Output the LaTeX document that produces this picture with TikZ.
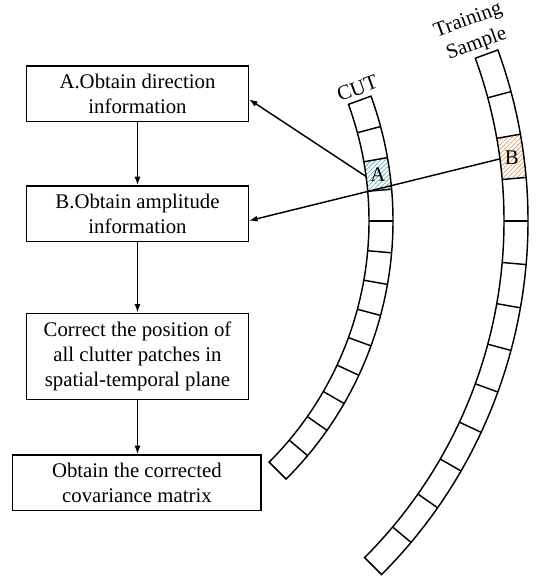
\documentclass[tikz,border=0pt]{standalone}
\usepackage{fontspec}
\setmainfont{Liberation Serif}
\usetikzlibrary{arrows.meta,patterns.meta,calc}
\definecolor{hatchA}{RGB}{100,180,185}
\definecolor{hatchB}{RGB}{220,160,110}
\begin{document}
\begin{tikzpicture}[x=1pt,y=1pt, line width=1.45pt,
  flowbox/.style={draw, align=center, inner sep=0pt, font=\fontsize{20.8}{25}\selectfont},
  arr/.style={-{Latex[length=8.5pt,width=6pt]}},
  lbl/.style={font=\fontsize{20.8}{25}\selectfont, inner sep=0pt, align=center},
  hatchcellA/.style={pattern={Lines[angle=45,distance=3.2pt,line width=0.75pt]}, pattern color=hatchA},
  hatchcellB/.style={pattern={Lines[angle=45,distance=3.2pt,line width=0.75pt]}, pattern color=hatchB}
]
\useasboundingbox (0,0) rectangle (535,-577);
\coordinate (C) at (28,-221);

% flow boxes
\node[flowbox, minimum width=221.6pt, minimum height=55.7pt] (bA) at (137.5,-93.8) {A.Obtain direction\\information};
\node[flowbox, minimum width=221.6pt, minimum height=55.7pt] (bB) at (137.5,-213.8) {B.Obtain amplitude\\information};
\node[flowbox, minimum width=221.6pt, minimum height=86pt] (bC) at (137.5,-356.3) {Correct the position of\\all clutter patches in\\spatial-temporal plane};
\node[flowbox, minimum width=248.3pt, minimum height=55.7pt] (bD) at (136.9,-482.8) {Obtain the corrected\\covariance matrix};

\draw[arr] (bA.south) -- (bA.south |- bB.north);
\draw[arr] (bB.south) -- (bB.south |- bC.north);
\draw[arr] (bC.south) -- (bC.south |- bD.north);

% hatched cells
\fill[hatchcellA] ($(C)+(10:341)$) arc[start angle=10,end angle=5,radius=341] -- ($(C)+(5:365)$) arc[start angle=5,end angle=10,radius=365] -- cycle;
\fill[hatchcellB] ($(C)+(10:476)$) arc[start angle=10,end angle=5,radius=476] -- ($(C)+(5:500)$) arc[start angle=5,end angle=10,radius=500] -- cycle;

% rings
\foreach \ri/\ro in {341/365,476/500}{
  \draw ($(C)+(20:\ri)$) arc[start angle=20,end angle=-45,radius=\ri] -- ($(C)+(-45:\ro)$) arc[start angle=-45,end angle=20,radius=\ro] -- cycle;
  \foreach \k in {1,...,12}{
    \draw ($(C)+({20-5*\k}:\ri)$) -- ($(C)+({20-5*\k}:\ro)$);
  }
}

% cell labels
\node[lbl] (Alab) at ($(C)+(7.5:353)$) {A};
\node[lbl] (Blab) at ($(C)+(7.5:488)$) {B};
\node[lbl, rotate=20] (cut) at (357.3,-88.3) {CUT};
\node[lbl, rotate=20] (ts) at (472.5,-32.5) {Training\\Sample};

% connectors
\coordinate (Ain) at ($(C)+(7.5:341)$);
\coordinate (Bin) at ($(C)+(7.5:476)$);
\draw[arr] (Ain) -- ([yshift=-5.5pt]bA.east);
\draw[arr] (Bin) -- ([yshift=-6.9pt]bB.east);
\end{tikzpicture}
\end{document}
